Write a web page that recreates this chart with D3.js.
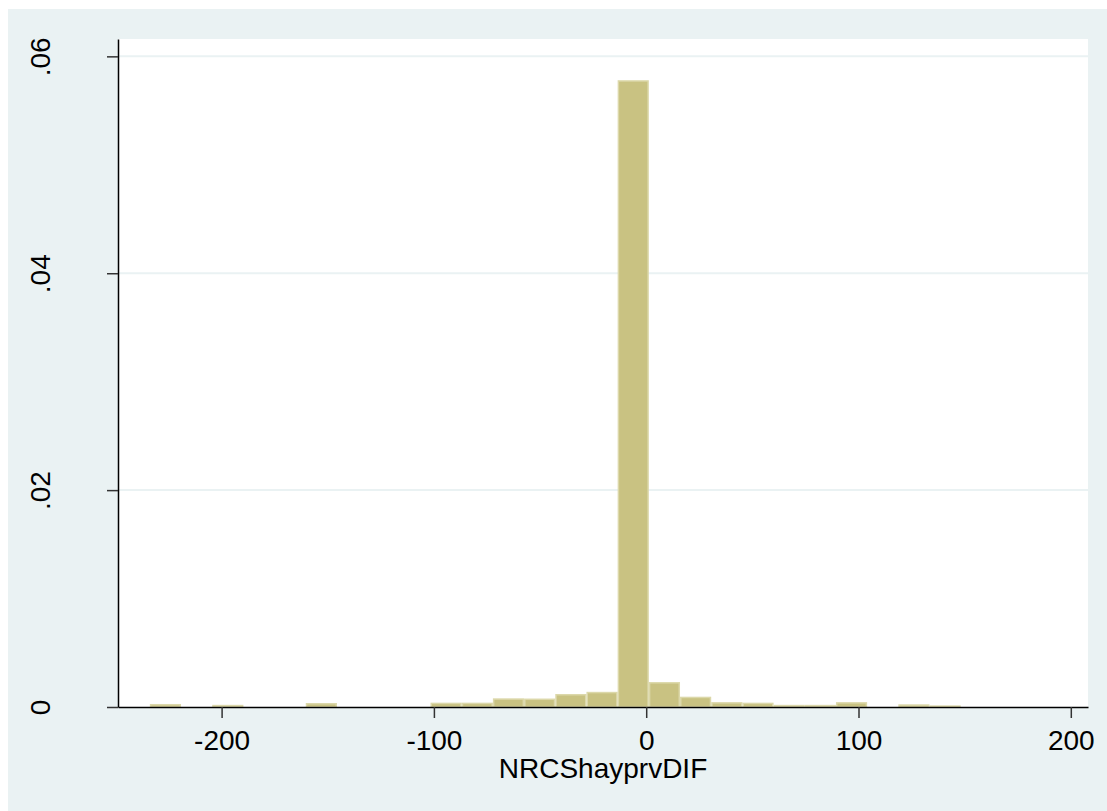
<!DOCTYPE html>
<html>
<head>
<meta charset="utf-8">
<script src="https://cdn.jsdelivr.net/npm/d3@7"></script>
<style>
  body { margin: 0; background: #fff; }
  text { font-family: "Liberation Sans", Arial, sans-serif; fill: #000; }
</style>
</head>
<body>
<div id="container"></div>
<script>
/**
 * DATA (histogram of NRCShayprvDIF, density scale)
 * */
const binStart = -233.8,
  binWidth = 14.69;

// density of each bin
const densities = [
  0.00028, 0, 0.0002, 0, 0, 0.00037, 0, 0, 0,
  0.0004, 0.0004, 0.0008, 0.00078, 0.0012, 0.0014,
  0.0578,
  0.0023, 0.00095, 0.00045, 0.0004, 0.0002, 0.0002, 0.00045, 0, 0.00025, 0.00015
];

const xTicks = [-200, -100, 0, 100, 200];
const yTicks = [0, 0.02, 0.04, 0.06];
const xTitle = "NRCShayprvDIF";

/**
 * CONSTANTS
 * */
const width = 1107,
  height = 811,
  plot = { left: 118, right: 1088, top: 39, bottom: 707 };

const bins = densities.map((d, i) => ({
  x0: binStart + i * binWidth,
  x1: binStart + (i + 1) * binWidth,
  density: d
}));

const svg = d3.select("#container")
  .append("svg")
  .attr("width", width)
  .attr("height", height);

// outer (graph region) background
svg.append("rect")
  .attr("x", 8)
  .attr("y", 9)
  .attr("width", width - 8)
  .attr("height", height - 9)
  .attr("fill", "#eaf2f3");

// plot region
svg.append("rect")
  .attr("x", plot.left)
  .attr("y", plot.top)
  .attr("width", plot.right - plot.left)
  .attr("height", plot.bottom - plot.top)
  .attr("fill", "#fff");

const xScale = d3.scaleLinear()
  .domain([-248.8, 208.1])
  .range([plot.left, plot.right]);

const yScale = d3.scaleLinear()
  .domain([0, 0.0616])
  .range([plot.bottom, plot.top]);

// grid lines
svg.selectAll("line.grid")
  .data(yTicks.filter(d => d > 0))
  .join("line")
  .attr("class", "grid")
  .attr("x1", plot.left)
  .attr("x2", plot.right)
  .attr("y1", d => yScale(d))
  .attr("y2", d => yScale(d))
  .attr("stroke", "#eaf2f3")
  .attr("stroke-width", 2);

// bars
svg.selectAll("rect.bar")
  .data(bins.filter(d => d.density > 0))
  .join("rect")
  .attr("class", "bar")
  .attr("x", d => xScale(d.x0) + 0.75)
  .attr("width", d => xScale(d.x1) - xScale(d.x0) - 1.5)
  .attr("y", d => yScale(d.density) + 0.75)
  .attr("height", d => Math.max(0, yScale(0) - yScale(d.density) - 0.75))
  .attr("fill", "#c9c282")
  .attr("stroke", "#dcd8aa")
  .attr("stroke-width", 1.5);

// y axis
const yAxis = svg.append("g")
  .attr("transform", `translate(${plot.left},0)`)
  .call(d3.axisLeft(yScale)
    .tickValues(yTicks)
    .tickSize(11)
    .tickSizeOuter(0)
    .tickFormat(d => d === 0 ? "0" : d3.format(".2f")(d).replace(/^0/, "")));

yAxis.selectAll("text")
  .attr("x", null)
  .attr("dy", null)
  .attr("transform", "translate(-68,0) rotate(-90)")
  .attr("text-anchor", "middle")
  .style("font-size", "28px");

// x axis (plain hyphen for negatives, like the original)
const xAxis = svg.append("g")
  .attr("transform", `translate(0,${plot.bottom})`)
  .call(d3.axisBottom(xScale)
    .tickValues(xTicks)
    .tickSize(11)
    .tickSizeOuter(0)
    .tickFormat(d => String(d)));

xAxis.selectAll("text")
  .attr("y", 43)
  .attr("dy", null)
  .style("font-size", "28px");

svg.selectAll(".domain").attr("stroke", "#000").attr("stroke-width", 1.5);
svg.selectAll(".tick line").attr("stroke", "#333").attr("stroke-width", 1.5);
svg.selectAll(".tick text").attr("font-family", null);

// x axis title
svg.append("text")
  .attr("x", (plot.left + plot.right) / 2)
  .attr("y", 778)
  .attr("text-anchor", "middle")
  .style("font-size", "28px")
  .text(xTitle);
</script>
</body>
</html>
